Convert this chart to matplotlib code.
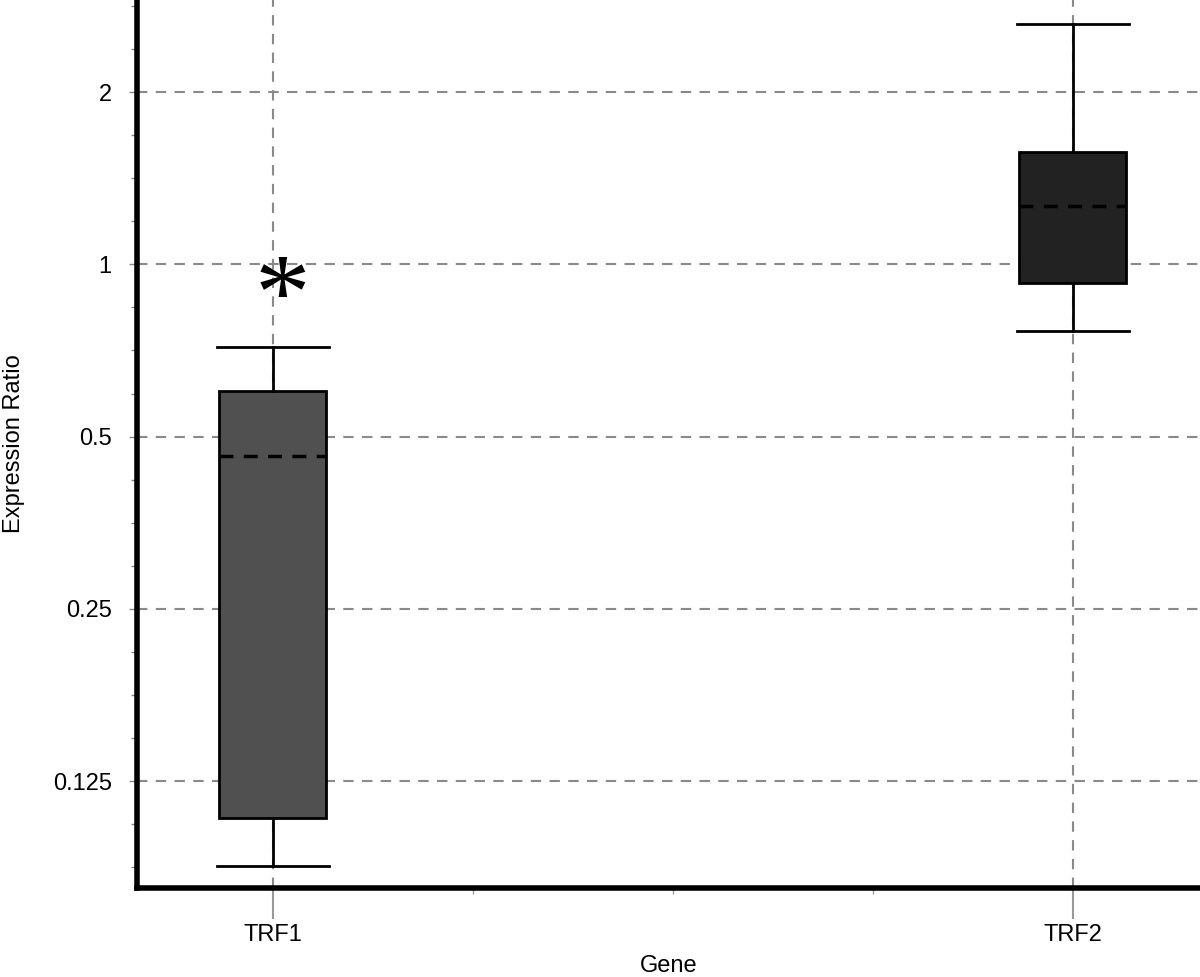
import matplotlib
matplotlib.use("Agg")
from matplotlib import pyplot as plt
from matplotlib.ticker import FixedLocator, NullFormatter

plt.rcParams['font.family'] = ['Liberation Sans', 'DejaVu Sans']

# box statistics (expression ratio)
genes = ['TRF1', 'TRF2']
whisker_low = [0.0887, 0.764]
box_low = [0.1076, 0.927]
medians = [0.462, 1.264]
box_high = [0.600, 1.571]
whisker_high = [0.717, 2.63]
box_colors = ['#505050', '#222222']

y_ticks = [0.125, 0.25, 0.5, 1, 2]
y_tick_labels = ['0.125', '0.25', '0.5', '1', '2']

stats = []
for i, g in enumerate(genes):
    stats.append(dict(label=g, whislo=whisker_low[i], q1=box_low[i], med=medians[i],
                      q3=box_high[i], whishi=whisker_high[i], fliers=[]))

fig = plt.figure(figsize=(12, 9.77), dpi=100)
ax = fig.add_axes([0.114, 0.091, 0.886, 0.909])

positions = list(range(len(genes)))
bp = ax.bxp(stats, positions=positions, widths=0.134, patch_artist=True,
            showfliers=False,
            boxprops=dict(edgecolor='black', linewidth=2),
            whiskerprops=dict(color='black', linewidth=2),
            capprops=dict(color='black', linewidth=2),
            medianprops=dict(color='black', linewidth=2.5, linestyle=(0, (4, 3))),
            capwidths=0.14, zorder=3)
for patch, c in zip(bp['boxes'], box_colors):
    patch.set_facecolor(c)

ax.set_yscale('log', base=2)
ax.set_ylim(0.0813, 2.896)
ax.set_xlim(-0.17, 1.159)

ax.yaxis.set_major_locator(FixedLocator(y_ticks))
ax.set_yticklabels(y_tick_labels)
minor_y = [2 ** (k / 4) for k in range(-16, 8) if k % 4 != 0]
ax.yaxis.set_minor_locator(FixedLocator(minor_y))
ax.yaxis.set_minor_formatter(NullFormatter())

ax.set_xticks(positions)
ax.set_xticklabels(genes)
ax.xaxis.set_minor_locator(FixedLocator([0.25, 0.5, 0.75]))

ax.grid(True, which='major', color='#8a8a8a', linestyle=(0, (5, 4)), linewidth=1.5, zorder=0)
ax.set_axisbelow(True)

for s in ['top', 'right']:
    ax.spines[s].set_visible(False)
for s in ['left', 'bottom']:
    ax.spines[s].set_linewidth(4)

ax.tick_params(axis='y', which='major', length=6, width=1, color='#888888', labelsize=17, pad=12)
ax.tick_params(axis='y', which='minor', length=4, width=1, color='#888888')
ax.tick_params(axis='x', which='major', length=22, width=1.5, color='#999999', labelsize=17, pad=4)
ax.tick_params(axis='x', which='minor', length=4, width=1, color='#999999')

ax.set_ylabel('Expression Ratio', fontsize=17, labelpad=20)
ax.set_xlabel('Gene', fontsize=17, labelpad=6)

# significance mark above TRF1
ax.text(positions[0] + 0.012, 0.86, '*', fontsize=80, ha='center', va='center',
        family=['Liberation Serif', 'DejaVu Serif'], zorder=4)

fig.savefig('out.png', dpi=100)
